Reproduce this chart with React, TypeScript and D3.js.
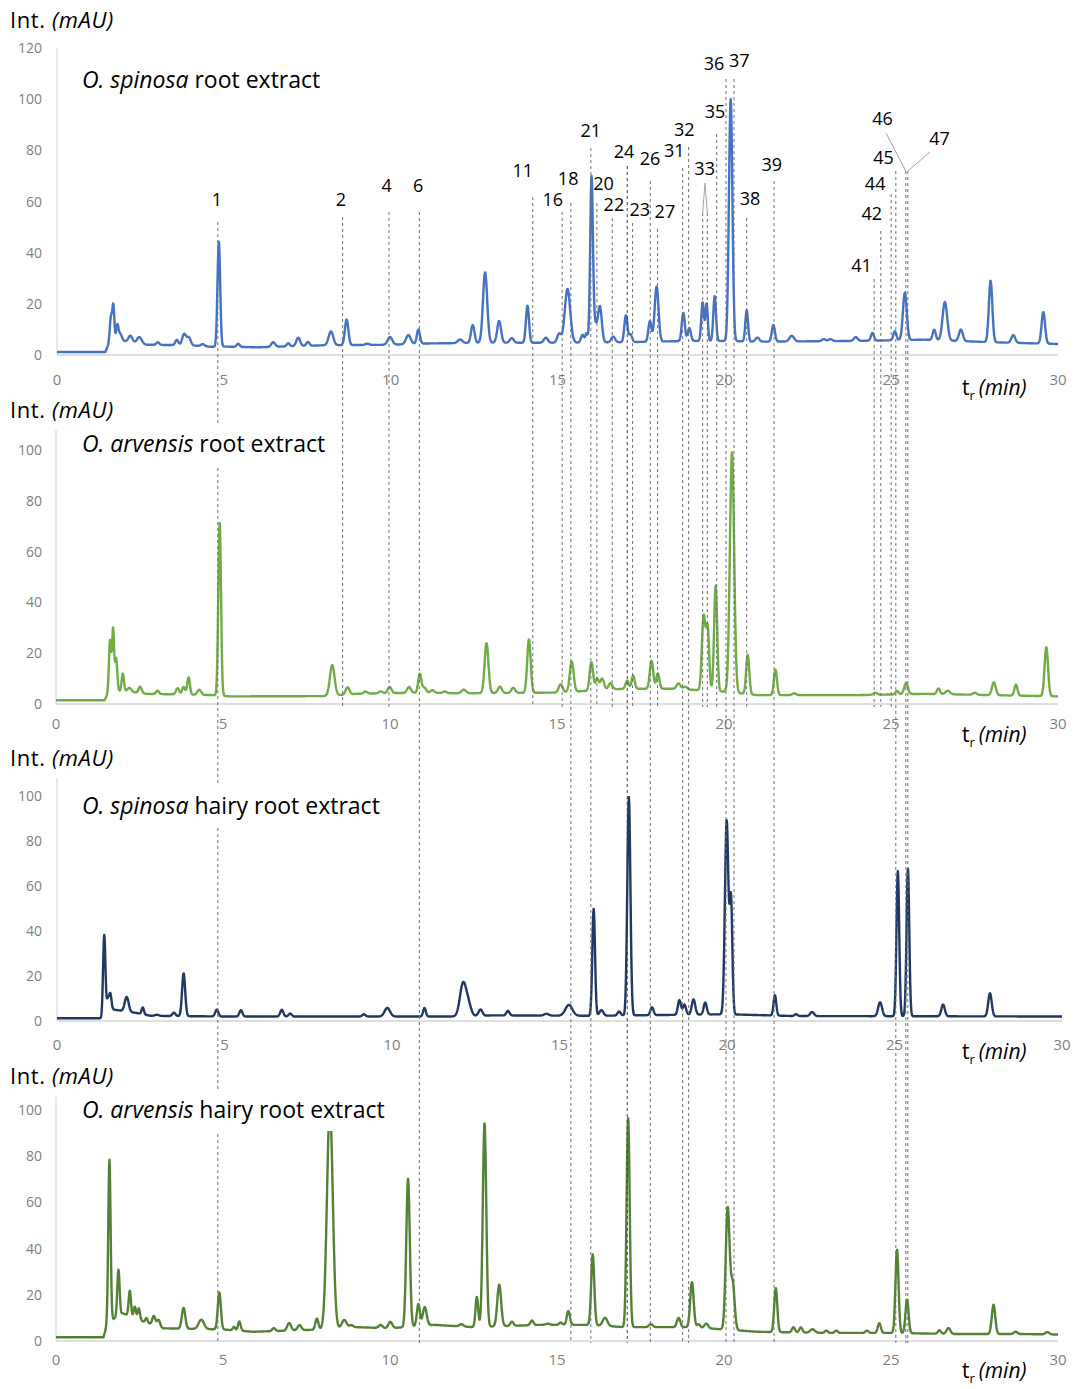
import React from 'react';
import * as d3 from 'd3';

// retention time axis (min)
const timeTicks = [0, 5, 10, 15, 20, 25, 30];
const ticks120 = [0, 20, 40, 60, 80, 100, 120];
const ticks100 = [0, 20, 40, 60, 80, 100];

// baselines: [t (min), intensity (mAU)]
const spinosaRootBaseline = [[0, 1.2], [1.45, 1.2], [1.6, 6], [2.0, 5.5], [2.7, 4], [4.0, 3.8], [4.6, 3.2], [5.0, 3.3], [6, 3], [8, 3.8], [10, 4], [11, 4.5], [13, 4.8], [15, 4.8], [17, 5], [19, 5.5], [20, 5.5], [21, 5.2], [24, 5.5], [26, 6], [28, 5], [30, 4.3]];
const arvensisRootBaseline = [[0, 1.5], [1.45, 1.5], [1.6, 5], [2.1, 5], [2.7, 4], [4.7, 3.5], [5.2, 3], [8, 3.1], [9, 4], [11, 4.5], [12, 4.2], [15, 4.5], [17, 6], [18.5, 6], [19.9, 5], [21, 3.5], [24, 3.5], [26, 4], [28, 3.5], [30, 3]];
const spinosaHairyBaseline = [[0, 1.2], [1.33, 1.2], [1.5, 5.5], [2.4, 3.5], [2.8, 2.3], [5, 2], [12, 2], [13, 2.5], [16, 2.3], [20, 3], [22, 2.2], [30, 2]];
const arvensisHairyBaseline = [[0, 1.6], [1.42, 1.6], [1.55, 8], [2.0, 12], [2.5, 9], [3.2, 5.5], [5, 5], [5.9, 4], [7, 4.5], [8, 5], [9, 6], [10, 5.5], [11.3, 7], [12.5, 6], [14.5, 7], [16, 7], [17, 6], [19, 6], [20, 5], [21, 4], [23, 3.5], [25, 3.5], [27, 3], [29, 3], [30, 2.8]];

// peaks: [t (min), height above baseline (mAU), sigma (min)]
const spinosaRootPeaks = [
  [1.62, 9, 0.03], [1.69, 13, 0.025], [1.81, 6, 0.03], [1.9, 2.5, 0.04], [2.2, 2.5, 0.05], [2.47, 2.5, 0.06],
  [3.02, 1, 0.04], [3.59, 2, 0.04], [3.81, 4.3, 0.05], [3.95, 3, 0.05], [4.37, 0.8, 0.05], [4.85, 41, 0.035],
  [5.43, 1.2, 0.04], [6.48, 1.8, 0.05], [6.93, 1.2, 0.04], [7.23, 3.3, 0.05], [7.52, 1.5, 0.04], [8.21, 5.4, 0.06],
  [8.68, 10, 0.045], [9.3, 0.5, 0.05], [9.98, 3, 0.06], [10.53, 3.5, 0.06], [10.83, 5.5, 0.04], [12.08, 1.4, 0.06],
  [12.46, 7, 0.045], [12.83, 27.5, 0.055], [13.25, 8.5, 0.05], [13.63, 1.8, 0.05], [14.1, 14.5, 0.04], [14.65, 2, 0.05],
  [15.05, 3.5, 0.05], [15.3, 21, 0.07], [15.75, 3, 0.04], [15.87, 3.5, 0.03], [16.02, 63.5, 0.035], [16.12, 7, 0.05],
  [16.27, 14, 0.05], [16.67, 2.2, 0.05], [17.05, 10.5, 0.04], [17.19, 3, 0.04], [17.77, 8, 0.04], [17.97, 21.5, 0.05],
  [18.77, 11, 0.04], [18.95, 5, 0.04], [19.35, 15, 0.035], [19.47, 14.5, 0.03], [19.71, 17.5, 0.035], [20.19, 94.5, 0.045],
  [20.67, 12.2, 0.035], [20.99, 1.6, 0.05], [21.47, 6.5, 0.04], [22.02, 2.2, 0.06], [22.98, 0.8, 0.05], [23.18, 0.8, 0.05],
  [23.94, 1.5, 0.05], [24.44, 3, 0.04], [25.11, 3.5, 0.04], [25.41, 18.5, 0.05], [26.29, 4, 0.04], [26.61, 15, 0.06],
  [27.09, 4.5, 0.05], [27.98, 24, 0.045], [28.66, 3, 0.05], [29.56, 12.3, 0.045],
];
const arvensisRootPeaks = [
  [1.62, 20, 0.03], [1.71, 24, 0.025], [1.8, 13, 0.03], [2.0, 7, 0.03], [2.2, 1.5, 0.05], [2.52, 2.5, 0.04],
  [3.04, 1.3, 0.04], [3.64, 2.5, 0.04], [3.82, 3, 0.04], [3.97, 6.8, 0.035], [4.29, 2, 0.05], [4.9, 68, 0.035],
  [8.27, 12, 0.06], [8.73, 2.8, 0.05], [9.27, 0.8, 0.05], [9.72, 0.8, 0.05], [9.99, 2.4, 0.05], [10.57, 2.3, 0.05],
  [10.89, 7.3, 0.04], [11.02, 2, 0.05], [11.27, 1, 0.05], [11.64, 0.6, 0.05], [12.21, 1.4, 0.06], [12.89, 19.6, 0.05],
  [13.29, 2.5, 0.05], [13.69, 2, 0.05], [14.16, 21, 0.045], [15.11, 3.2, 0.05], [15.44, 11.9, 0.05], [16.03, 11.2, 0.045],
  [16.2, 4.5, 0.04], [16.35, 4.5, 0.05], [16.6, 2.5, 0.05], [17.1, 3.2, 0.04], [17.28, 5.2, 0.04], [17.83, 11, 0.045],
  [18.02, 6, 0.04], [18.64, 2.2, 0.05], [18.84, 1.1, 0.05], [19.39, 29, 0.045], [19.51, 24, 0.04], [19.75, 41.5, 0.04],
  [20.24, 94.5, 0.055], [20.71, 15.5, 0.04], [21.54, 10, 0.04], [22.1, 0.7, 0.05], [24.53, 0.8, 0.05], [25.18, 1.3, 0.04],
  [25.45, 4.2, 0.05], [26.42, 2.2, 0.04], [26.7, 1.4, 0.06], [27.51, 0.8, 0.05], [28.08, 5, 0.05], [28.74, 4.3, 0.04],
  [29.65, 19.3, 0.045],
];
const spinosaHairyPeaks = [
  [1.41, 35, 0.03], [1.52, 4, 0.025], [1.59, 7, 0.03], [2.08, 6.5, 0.05], [2.56, 3, 0.03], [2.98, 0.5, 0.05],
  [3.49, 1.5, 0.04], [3.78, 19, 0.04], [4.77, 3, 0.04], [5.49, 2.8, 0.04], [6.71, 3, 0.04], [6.96, 1.3, 0.04],
  [9.16, 1, 0.04], [9.86, 3.8, 0.07], [10.97, 3.8, 0.035], [12.12, 14.5, 0.08], [12.28, 5, 0.07], [12.64, 2.8, 0.05],
  [13.46, 2, 0.04], [14.61, 0.8, 0.06], [15.28, 4.8, 0.09], [16.02, 47.5, 0.035], [16.25, 2.5, 0.05], [16.78, 1.8, 0.04],
  [17.07, 97, 0.04], [17.76, 3.5, 0.04], [18.58, 6.5, 0.04], [18.73, 4.5, 0.04], [19.0, 6.8, 0.045], [19.35, 5.3, 0.04],
  [19.99, 86, 0.045], [20.12, 50, 0.035], [21.43, 9, 0.035], [22.06, 0.8, 0.04], [22.54, 1.8, 0.05], [24.57, 6.2, 0.05],
  [25.1, 64.5, 0.035], [25.4, 65.5, 0.035], [26.45, 5.2, 0.045], [27.85, 10.3, 0.045],
];
const arvensisHairyPeaks = [
  [1.6, 70, 0.03], [1.87, 20, 0.03], [2.21, 11, 0.03], [2.36, 5, 0.03], [2.48, 5, 0.03], [2.71, 2, 0.03],
  [2.93, 4, 0.04], [3.07, 3, 0.04], [3.82, 9, 0.045], [4.35, 4, 0.07], [4.89, 16, 0.04], [5.33, 1.5, 0.03],
  [5.49, 4, 0.035], [6.52, 1.3, 0.04], [6.98, 3.3, 0.05], [7.29, 2.2, 0.05], [7.81, 4.8, 0.04], [8.2, 96, 0.075],
  [8.63, 3.5, 0.06], [8.84, 1, 0.05], [9.72, 1.3, 0.05], [10.01, 2.8, 0.05], [10.54, 64, 0.045], [10.85, 9.5, 0.04],
  [11.04, 8, 0.05], [12.14, 1, 0.05], [12.6, 13, 0.035], [12.83, 88, 0.045], [13.27, 18, 0.05], [13.65, 1.8, 0.04],
  [14.25, 2, 0.04], [14.72, 0.5, 0.05], [15.11, 1, 0.04], [15.34, 6, 0.04], [16.07, 30.5, 0.04], [16.44, 3.5, 0.06],
  [17.13, 90.5, 0.04], [17.81, 1.3, 0.05], [18.64, 4, 0.045], [19.04, 19.5, 0.045], [19.24, 1.5, 0.04], [19.47, 2, 0.05],
  [20.11, 52.5, 0.05], [20.26, 20, 0.05], [21.55, 19, 0.04], [22.08, 2.2, 0.04], [22.3, 2.2, 0.04], [22.65, 1.5, 0.06],
  [23.06, 1, 0.04], [23.36, 1, 0.04], [24.28, 1, 0.04], [24.65, 4.2, 0.04], [25.18, 36, 0.04], [25.48, 14.5, 0.04],
  [26.45, 1.5, 0.04], [26.72, 2.5, 0.05], [28.07, 12.7, 0.045], [28.73, 1, 0.05], [29.68, 1, 0.05],
];

// numbered compounds: label, retention time (min), found in hairy roots too
const markerLabels = ['1', '2', '4', '6', '11', '16', '18', '21', '20', '22', '24', '23', '26', '27', '31', '32', '33', '33', '35', '36', '37', '38', '39', '41', '42', '44', '45', '46', '47'];
const markerTimes = [4.82, 8.56, 9.95, 10.86, 14.26, 15.14, 15.4, 16.0, 16.18, 16.64, 17.09, 17.25, 17.78, 18.0, 18.75, 18.93, 19.35, 19.49, 19.77, 20.05, 20.29, 20.67, 21.49, 24.49, 24.69, 25.0, 25.14, 25.44, 25.5];
const markerInHairy = [true, false, false, true, false, false, true, true, false, false, true, false, true, false, true, true, false, false, false, true, true, false, true, false, false, false, true, true, true];

// label placement, parallel to the marker arrays: [dx, label centre y, line top y]
const markerLayout = [
  [-1, 199, 222], [-1.7, 199, 217], [-2.3, 185, 212], [-1.3, 185, 212], [-10, 170, 197], [-9.3, 199, 212],
  [-2.7, 178, 203], [0, 130, 148], [6.6, 183, 203], [1.7, 204, 218], [-3.3, 151, 166], [7.3, 209, 223],
  [-0.3, 158, 181], [7.3, 211, 229], [-8.4, 150, 168], [-4.4, 129, 147], [2, 168, 213], [null, 0, 213],
  [-1.7, 111, 134], [-12, 63, 79], [5.3, 60, 79], [3.3, 198, 218], [-2.3, 164, 181], [-12.6, 265, 279],
  [-9, 213, 231], [-16, 183, 194], [-12.4, 157, 171], [-23.4, 118, 171], [31.6, 138, 171],
];

const FONT = '"Open Sans", "Liberation Sans", sans-serif';
const peakWidthScale = 1.15;

const panels = [
  { species: 'O. spinosa', rest: ' root extract', baseline: spinosaRootBaseline, peaks: spinosaRootPeaks, color: '#4472C4',
    x: [57, 1058], y: [355, 48], yMax: 120, axisTop: 48, yTicks: ticks120, intY: 20, titleY: 80, titleEnd: 332, tickY: 380, trY: 388 },
  { species: 'O. arvensis', rest: ' root extract', baseline: arvensisRootBaseline, peaks: arvensisRootPeaks, color: '#70AD47',
    x: [56, 1058], y: [704, 450], yMax: 100, axisTop: 430, yTicks: ticks100, intY: 410, titleY: 444, titleEnd: 338, tickY: 724, trY: 735 },
  { species: 'O. spinosa', rest: ' hairy root extract', baseline: spinosaHairyBaseline, peaks: spinosaHairyPeaks, color: '#1F3864',
    x: [57, 1062], y: [1021, 796], yMax: 100, axisTop: 778, yTicks: ticks100, intY: 758, titleY: 806, titleEnd: 392, tickY: 1045, trY: 1052 },
  { species: 'O. arvensis', rest: ' hairy root extract', baseline: arvensisHairyBaseline, peaks: arvensisHairyPeaks, color: '#548235',
    x: [56, 1058], y: [1341, 1110], yMax: 100, axisTop: 1097, yTicks: ticks100, intY: 1076, titleY: 1110, titleEnd: 400, tickY: 1360, trY: 1371 },
];

const times = d3.range(0, 30.0001, 0.01);

function signal(baseline, peaks) {
  const base = d3.scaleLinear().domain(baseline.map(d => d[0])).range(baseline.map(d => d[1])).clamp(true);
  return times.map(t => {
    let v = base(t);
    for (const [rt, h, s] of peaks) {
      const z = (t - rt) / (s * peakWidthScale);
      if (Math.abs(z) < 8) v += h * Math.exp(-0.5 * z * z);
    }
    return [t, v];
  });
}

const App = () => {
  const xTop = d3.scaleLinear().domain([0, 30]).range(panels[0].x);

  return (
    <svg width={1075} height={1389} style={{ position: 'absolute', left: 0, top: 0, background: '#fff' }} fontFamily={FONT}>
      {panels.map((p, i) => {
        const x = d3.scaleLinear().domain([0, 30]).range(p.x);
        const y = d3.scaleLinear().domain([0, p.yMax]).range(p.y);
        const line = d3.line().x(d => x(d[0])).y(d => y(d[1]));
        return (
          <g key={'p' + i}>
            <line x1={p.x[0]} x2={p.x[0]} y1={p.axisTop} y2={p.y[0]} stroke="#d9d9d9" strokeWidth={1.2} />
            <line x1={p.x[0]} x2={p.x[1]} y1={p.y[0]} y2={p.y[0]} stroke="#bfbfbf" strokeWidth={1.2} />
            {p.yTicks.map(v => (
              <text key={v} x={42} y={y(v) + 5} textAnchor="end" fontSize={14} fill="#7f7f7f">{v}</text>
            ))}
            {timeTicks.map(v => (
              <text key={v} x={x(v)} y={p.tickY + 5} textAnchor="middle" fontSize={15} fill="#7f7f7f">{v}</text>
            ))}
            <path d={line(signal(p.baseline, p.peaks))} fill="none" stroke={p.color} strokeWidth={2.4} strokeLinejoin="round" />
            <text x={10} y={p.intY + 8} fontSize={22} letterSpacing={0.6} fill="#000">Int. <tspan fontStyle="italic">(mAU)</tspan></text>
            <text x={962} y={p.trY + 7} fontSize={21} fill="#000">t<tspan dy={5} fontSize={13}>r</tspan><tspan dy={-5} dx={4} fontStyle="italic">(min)</tspan></text>
          </g>
        );
      })}

      {/* dashed compound markers */}
      {markerTimes.map((t, i) => (
        <line key={'m' + i} x1={xTop(t)} x2={xTop(t)} y1={markerLayout[i][2]} y2={markerInHairy[i] ? 1343 : 707}
          stroke={i === 10 ? '#404040' : '#6f6f6f'} strokeWidth={1} strokeDasharray="3,3" />
      ))}
      <polyline points={`${xTop(markerTimes[16])},213 ${(xTop(markerTimes[16]) + xTop(markerTimes[17])) / 2},183 ${xTop(markerTimes[17])},213`}
        fill="none" stroke="#a6a6a6" strokeWidth={1} />
      <line x1={886} y1={133} x2={xTop(markerTimes[27])} y2={171} stroke="#a6a6a6" strokeWidth={1} />
      <line x1={930} y1={152} x2={xTop(markerTimes[28])} y2={171} stroke="#a6a6a6" strokeWidth={1} />
      {markerLabels.map((lab, i) => markerLayout[i][0] === null ? null : (
        <text key={'l' + i} x={xTop(markerTimes[i]) + markerLayout[i][0]} y={markerLayout[i][1] + 6.5}
          textAnchor="middle" fontSize={18} fill="#000">{lab}</text>
      ))}

      {/* panel titles on white boxes */}
      {panels.map((p, i) => (
        <g key={'t' + i}>
          <rect x={76} y={p.titleY - 21} width={p.titleEnd - 76} height={42} fill="#fff" />
          <text x={82} y={p.titleY + 8} fontSize={23} fill="#000"><tspan fontStyle="italic">{p.species}</tspan>{p.rest}</text>
        </g>
      ))}
    </svg>
  );
};

export default App;
